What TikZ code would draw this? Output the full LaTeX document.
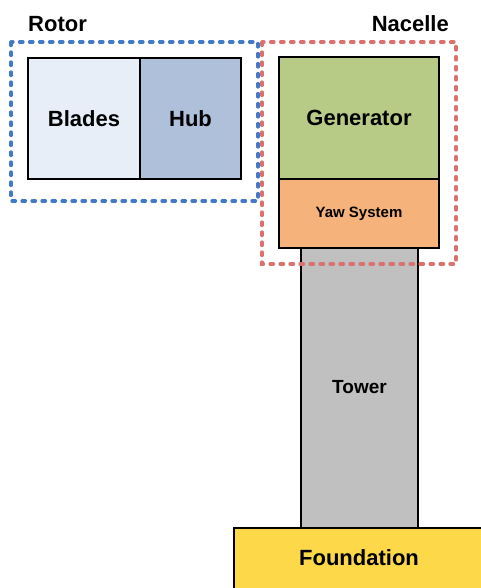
\documentclass[tikz,border=0pt]{standalone}
\usepackage{fontspec}
\setmainfont{Liberation Sans}
\usetikzlibrary{positioning}

\definecolor{bladecol}{HTML}{E8EEF8}
\definecolor{hubcol}{HTML}{AFC0DA}
\definecolor{gencol}{HTML}{B7CB87}
\definecolor{yawcol}{HTML}{F5B27B}
\definecolor{towercol}{HTML}{C0C0C0}
\definecolor{foundcol}{HTML}{FDD849}
\definecolor{rotorcol}{HTML}{4279C9}
\definecolor{nacellecol}{HTML}{DB716E}

\begin{document}
\begin{tikzpicture}[x=1pt, y=-1pt,
  part/.style={draw, line width=1.6pt, rectangle, inner sep=0pt, font=\fontsize{22}{26}\selectfont\bfseries},
  group/.style={line width=3.2pt, dash pattern=on 3.5pt off 6.5pt, line cap=round},
  title/.style={font=\fontsize{22}{26}\selectfont\bfseries, inner sep=0pt}]
\useasboundingbox (0,0) rectangle (481,588);

\node[part, fill=bladecol, minimum width=112pt, minimum height=121pt] (blades) at (84, 118.5) {Blades};
\node[part, fill=hubcol, minimum width=101pt, minimum height=121pt] (hub) at (190.5, 118.5) {Hub};
\node[part, fill=towercol, minimum width=117pt, minimum height=281pt, font=\fontsize{19}{22}\selectfont\bfseries] (tower) at (359.5, 387.5) {Tower};
\node[part, fill=gencol, minimum width=160pt, minimum height=122pt] (generator) at (359, 118) {Generator};
\node[part, fill=yawcol, minimum width=160pt, minimum height=69pt, font=\fontsize{15}{18}\selectfont\bfseries] (yaw) at (359, 213.5) {Yaw System};
\node[part, fill=foundcol, minimum width=252pt, minimum height=66pt, anchor=north west] (foundation) at (233, 527) {};
\node[title] (foundlabel) at (359, 558) {Foundation};

\draw[group, rotorcol] (11, 42) rectangle (258, 201);
\draw[group, nacellecol] (262, 42) rectangle (456, 264);

\node[title, anchor=west] (rotor) at (28, 24) {Rotor};
\node[title, anchor=east] (nacelle) at (449, 24) {Nacelle};

\end{tikzpicture}
\end{document}
